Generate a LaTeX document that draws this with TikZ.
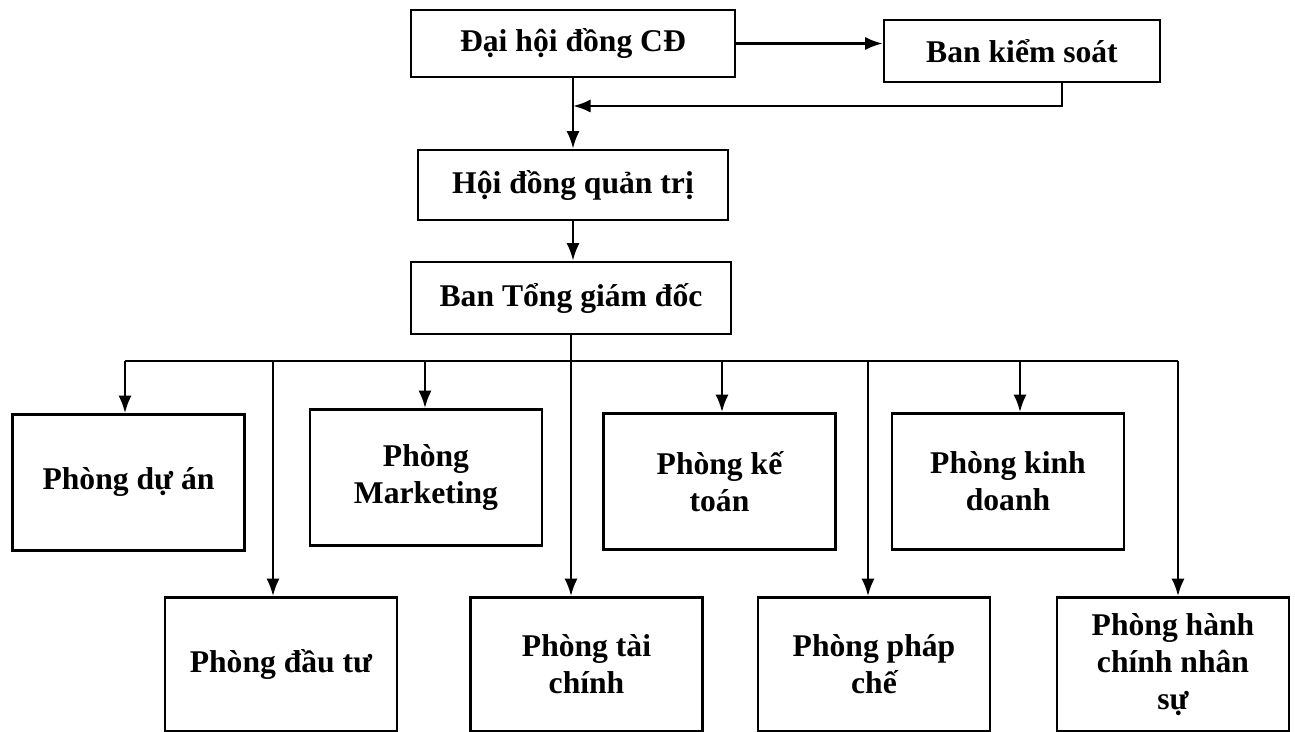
\documentclass[tikz,border=0pt]{standalone}
\usepackage{fontspec}
\setmainfont{Liberation Serif}
\usepackage{tikz}
\usetikzlibrary{arrows.meta}
\usetikzlibrary{positioning,calc}

\begin{document}
\begin{tikzpicture}[>={Latex[length=10pt,width=7.5pt]}, x=0.02cm, y=-0.02cm, line width=1.5pt,
	box/.style={draw, align=center, inner sep=2pt, font=\fontsize{18}{21}\selectfont\bfseries},
	phong/.style={box, minimum width=4.64cm, minimum height=2.72cm}]
	\useasboundingbox (0,0) rectangle (1295,732);
	\node[box, minimum width=6.48cm, minimum height=1.34cm] (dhdcd) at (573,43.5) {Đại hội đồng CĐ};
	\node[box, minimum width=5.52cm, minimum height=1.24cm] (bks) at (1022,51) {Ban kiểm soát};
	\node[box, minimum width=6.2cm, minimum height=1.4cm] (hdqt) at (573,185) {Hội đồng quản trị};
	\node[box, minimum width=6.4cm, minimum height=1.44cm] (tgd) at (571,298) {Ban Tổng giám đốc};
	\node[phong] (duan) at (128.5,482.5) {Phòng dự án};
	\node[phong] (mkt) at (426,477.5) {Phòng\\Marketing};
	\node[phong] (ketoan) at (719.5,481.5) {Phòng kế\\toán};
	\node[phong] (kinhdoanh) at (1008,481.5) {Phòng kinh\\doanh};
	\node[phong, minimum height=2.68cm] (dautu) at (281,664.5) {Phòng đầu tư};
	\node[phong, minimum height=2.68cm] (taichinh) at (586.5,664.5) {Phòng tài\\chính};
	\node[phong, minimum height=2.68cm] (phapche) at (874,664.5) {Phòng pháp\\chế};
	\node[phong, minimum height=2.68cm] (hcns) at (1173,664.5) {Phòng hành\\chính nhân\\sự};
	\draw[->] (dhdcd.east) -- (dhdcd.east -| bks.west);
	\coordinate (fb) at (1062,106);
	\draw[->] (fb |- bks.south) -- (fb) -- (fb -| dhdcd.south);
	\draw[->] (dhdcd.south) -- (dhdcd.south |- hdqt.north);
	\draw[->] (hdqt.south) -- (hdqt.south |- tgd.north);
	\draw[->] (tgd.south) -- (tgd.south |- taichinh.north);
	\coordinate (busL) at (125,361);
	\coordinate (busR) at (1178,361);
	\draw (busL) -- (busR);
	\foreach \x/\t in {125/duan, 273/dautu, 425/mkt, 722/ketoan, 868/phapche, 1020/kinhdoanh, 1178/hcns} {
		\coordinate (drop) at (\x,361);
		\draw[->] (drop) -- (drop |- \t.north);
	}
\end{tikzpicture}
\end{document}
